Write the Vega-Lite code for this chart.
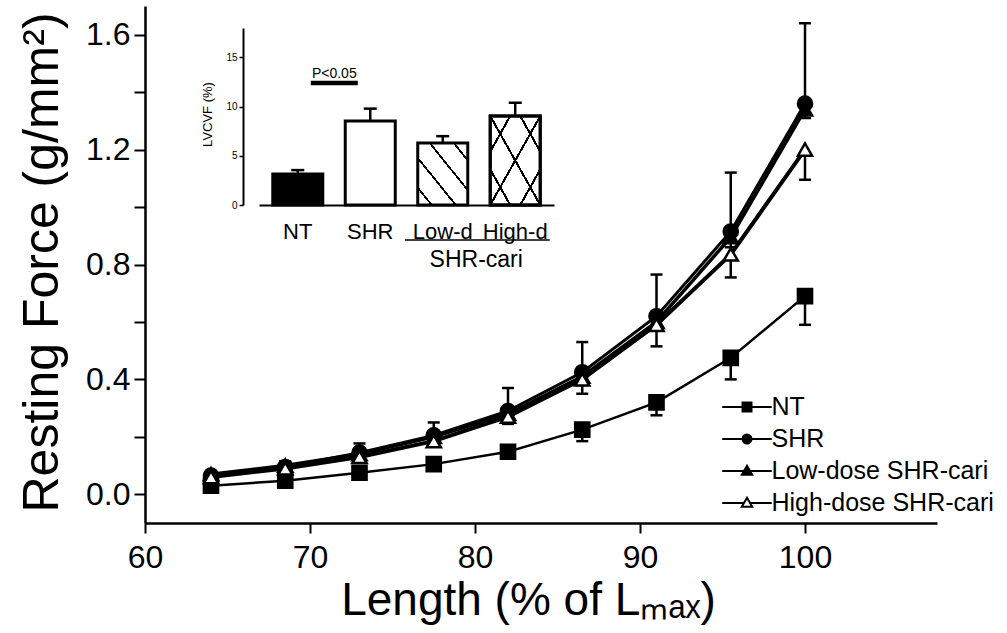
{
  "$schema": "https://vega.github.io/schema/vega-lite/v6.json",
  "width": 792,
  "height": 517,
  "autosize": {"type": "none"},
  "padding": {"left": 145, "top": 6, "right": 70, "bottom": 110},
  "background": "white",
  "config": {
    "view": {"stroke": null},
    "font": "Liberation Sans",
    "axis": {"grid": false, "domainColor": "black", "tickColor": "black", "labelColor": "black", "titleColor": "black", "titleFontWeight": "normal", "labelFlush": false, "labelOverlap": false},
    "legend": {"padding": 0}
  },
  "datasets": {
    "curves": [
      {"group": "NT", "length": 64, "force": 0.03, "bar_end": 0.02},
      {"group": "NT", "length": 68.5, "force": 0.047, "bar_end": 0.035},
      {"group": "NT", "length": 73, "force": 0.075, "bar_end": 0.06},
      {"group": "NT", "length": 77.5, "force": 0.105, "bar_end": 0.09},
      {"group": "NT", "length": 82, "force": 0.148, "bar_end": 0.13},
      {"group": "NT", "length": 86.5, "force": 0.225, "bar_end": 0.185},
      {"group": "NT", "length": 91, "force": 0.32, "bar_end": 0.275},
      {"group": "NT", "length": 95.5, "force": 0.475, "bar_end": 0.4},
      {"group": "NT", "length": 100, "force": 0.69, "bar_end": 0.59},
      {"group": "SHR", "length": 64, "force": 0.065, "bar_end": 0.08},
      {"group": "SHR", "length": 68.5, "force": 0.095, "bar_end": 0.115},
      {"group": "SHR", "length": 73, "force": 0.145, "bar_end": 0.177},
      {"group": "SHR", "length": 77.5, "force": 0.205, "bar_end": 0.25},
      {"group": "SHR", "length": 82, "force": 0.29, "bar_end": 0.37},
      {"group": "SHR", "length": 86.5, "force": 0.425, "bar_end": 0.53},
      {"group": "SHR", "length": 91, "force": 0.62, "bar_end": 0.765},
      {"group": "SHR", "length": 95.5, "force": 0.915, "bar_end": 1.12},
      {"group": "SHR", "length": 100, "force": 1.36, "bar_end": 1.64},
      {"group": "Low-dose SHR-cari", "length": 64, "force": 0.07, "bar_end": 0.06},
      {"group": "Low-dose SHR-cari", "length": 68.5, "force": 0.1, "bar_end": 0.088},
      {"group": "Low-dose SHR-cari", "length": 73, "force": 0.14, "bar_end": 0.125},
      {"group": "Low-dose SHR-cari", "length": 77.5, "force": 0.2, "bar_end": 0.18},
      {"group": "Low-dose SHR-cari", "length": 82, "force": 0.28, "bar_end": 0.255},
      {"group": "Low-dose SHR-cari", "length": 86.5, "force": 0.41, "bar_end": 0.38},
      {"group": "Low-dose SHR-cari", "length": 91, "force": 0.6, "bar_end": 0.57},
      {"group": "Low-dose SHR-cari", "length": 95.5, "force": 0.895, "bar_end": 0.86},
      {"group": "Low-dose SHR-cari", "length": 100, "force": 1.34, "bar_end": 1.31},
      {"group": "High-dose SHR-cari", "length": 64, "force": 0.06, "bar_end": 0.05},
      {"group": "High-dose SHR-cari", "length": 68.5, "force": 0.09, "bar_end": 0.08},
      {"group": "High-dose SHR-cari", "length": 73, "force": 0.13, "bar_end": 0.115},
      {"group": "High-dose SHR-cari", "length": 77.5, "force": 0.185, "bar_end": 0.17},
      {"group": "High-dose SHR-cari", "length": 82, "force": 0.27, "bar_end": 0.245},
      {"group": "High-dose SHR-cari", "length": 86.5, "force": 0.4, "bar_end": 0.35},
      {"group": "High-dose SHR-cari", "length": 91, "force": 0.59, "bar_end": 0.515},
      {"group": "High-dose SHR-cari", "length": 95.5, "force": 0.835, "bar_end": 0.755},
      {"group": "High-dose SHR-cari", "length": 100, "force": 1.2, "bar_end": 1.095}
    ],
    "lvcvf": [
      {"group": "NT", "value": 3.15, "err_top": 3.55},
      {"group": "SHR", "value": 8.55, "err_top": 9.8},
      {"group": "Low-d", "value": 6.3, "err_top": 7.0},
      {"group": "High-d", "value": 9.05, "err_top": 10.4}
    ]
  },
  "layer": [
    {
      "data": {"name": "curves"},
      "encoding": {
        "x": {
          "field": "length", "type": "quantitative",
          "scale": {"domain": [60, 108], "nice": false, "zero": false},
          "axis": {
            "orient": "bottom", "values": [60, 70, 80, 90, 100], "format": "d",
            "tickSize": 10, "tickWidth": 2, "domainWidth": 2.5,
            "labelFontSize": 32, "labelPadding": 9,
            "title": "Length (% of Lₘₐₓ)", "titleFontSize": 46,
            "titleX": 383, "titleY": 77, "titleAlign": "center", "titleBaseline": "middle"
          }
        },
        "y": {
          "field": "force", "type": "quantitative",
          "scale": {"domain": [-0.1, 1.7], "nice": false, "zero": false},
          "axis": {
            "orient": "left", "values": [0, 0.2, 0.4, 0.6, 0.8, 1, 1.2, 1.4, 1.6],
            "labelExpr": "round(datum.value*10) % 4 === 0 ? format(datum.value, '.1f') : ''",
            "tickSize": 11, "tickWidth": 2, "domainWidth": 2.5,
            "labelFontSize": 32, "labelPadding": 4,
            "title": "Resting Force (g/mm²)", "titleFontSize": 50,
            "titleX": -103, "titleY": 256, "titleAngle": -90, "titleAlign": "center", "titleBaseline": "middle"
          }
        }
      },
      "layer": [
        {
          "mark": {"type": "line", "color": "black"},
          "encoding": {
            "detail": {"field": "group"},
            "strokeWidth": {"field": "group", "type": "nominal", "scale": {"domain": ["NT", "SHR", "Low-dose SHR-cari", "High-dose SHR-cari"], "range": [2.5, 4, 3, 2.5]}, "legend": null}
          }
        },
        {
          "mark": {"type": "rule", "color": "black", "strokeWidth": 2.5},
          "encoding": {"y2": {"field": "bar_end"}}
        },
        {
          "mark": {"type": "tick", "color": "black", "orient": "horizontal", "size": 12, "thickness": 2.5, "opacity": 1},
          "encoding": {"y": {"field": "bar_end", "type": "quantitative", "title": "Resting Force (g/mm²)", "scale": {"domain": [-0.1, 1.7], "nice": false, "zero": false}}}
        },
        {
          "mark": {"type": "point", "strokeWidth": 2, "size": 1, "opacity": 1},
          "encoding": {
            "shape": {
              "field": "group", "type": "nominal",
              "scale": {"domain": ["NT", "SHR", "Low-dose SHR-cari", "High-dose SHR-cari"], "range": ["M-5.5,0H5.5M-1,-1H1V1H-1Z", "M-5.5,0H5.5M1,0A1,1,0,1,1,-1,0A1,1,0,1,1,1,0Z", "M-5.5,0H5.5M0,-1.15L1.15,0.85H-1.15Z", "M-5.5,0H-0.6M0.6,0H5.5M0,-1.15L1.15,0.85H-1.15Z"]},
              "legend": {"title": null, "orient": "none", "legendX": 589.5, "legendY": 388.5, "labelFontSize": 25, "labelFont": "Liberation Sans", "labelColor": "black", "symbolSize": 81, "symbolStrokeWidth": 2, "symbolOpacity": 1, "labelOffset": 12, "rowPadding": 6, "padding": 0, "labelLimit": 400}
            },
            "fill": {
              "field": "group", "type": "nominal",
              "scale": {"domain": ["NT", "SHR", "Low-dose SHR-cari", "High-dose SHR-cari"], "range": ["black", "black", "black", "white"]},
              "legend": {"title": null, "orient": "none", "legendX": 589.5, "legendY": 388.5, "labelFontSize": 25, "labelFont": "Liberation Sans", "labelColor": "black", "symbolSize": 81, "symbolStrokeWidth": 2, "symbolOpacity": 1, "labelOffset": 12, "rowPadding": 6, "padding": 0, "labelLimit": 400}
            },
            "stroke": {
              "field": "group", "type": "nominal",
              "scale": {"domain": ["NT", "SHR", "Low-dose SHR-cari", "High-dose SHR-cari"], "range": ["black", "black", "black", "black"]},
              "legend": {"title": null, "orient": "none", "legendX": 589.5, "legendY": 388.5, "labelFontSize": 25, "labelFont": "Liberation Sans", "labelColor": "black", "symbolSize": 81, "symbolStrokeWidth": 2, "symbolOpacity": 1, "labelOffset": 12, "rowPadding": 6, "padding": 0, "labelLimit": 400}
            }
          }
        },
        {
          "mark": {"type": "point", "stroke": "black", "strokeWidth": 2.5, "size": 200, "opacity": 1},
          "encoding": {
            "shape": {"field": "group", "type": "nominal", "scale": {"domain": ["NT", "SHR", "Low-dose SHR-cari", "High-dose SHR-cari"], "range": ["square", "circle", "triangle-up", "triangle-up"]}, "legend": null},
            "fill": {"field": "group", "type": "nominal", "scale": {"domain": ["NT", "SHR", "Low-dose SHR-cari", "High-dose SHR-cari"], "range": ["black", "black", "black", "white"]}, "legend": null}
          }
        }
      ],
      "resolve": {"scale": {"shape": "independent", "fill": "independent", "stroke": "independent"}}
    },
    {
      "data": {"name": "lvcvf"},
      "encoding": {
        "x": {
          "field": "group", "type": "nominal",
          "scale": {"domain": ["NT", "SHR", "Low-d", "High-d"], "range": [114, 409], "paddingInner": 0.31, "paddingOuter": 0.19},
          "axis": {"orient": "bottom", "offset": -318, "ticks": false, "tickSize": 0, "domainWidth": 2, "labelFontSize": 22, "labelPadding": 16, "labelAngle": 0, "title": null}
        },
        "y": {
          "field": "value", "type": "quantitative",
          "scale": {"domain": [0, 18], "range": [199, 22], "nice": false, "zero": false},
          "axis": {"orient": "left", "offset": -98, "values": [0, 5, 10, 15], "tickSize": 4, "tickWidth": 1.5, "domainWidth": 2, "labelFontSize": 10, "labelPadding": 2, "title": "LVCVF (%)", "titleFontSize": 13, "titleX": -36, "titleY": 108, "titleAngle": -90, "titleAlign": "center", "titleBaseline": "middle"}
        }
      },
      "layer": [
        {"transform": [{"filter": "datum.group === 'NT'"}], "mark": {"type": "bar", "fill": "black", "stroke": "black", "strokeWidth": 3}},
        {"transform": [{"filter": "datum.group === 'SHR'"}], "mark": {"type": "bar", "fill": "white", "stroke": "black", "strokeWidth": 3}},
        {"transform": [{"filter": "datum.group === 'Low-d'"}], "mark": {"type": "bar", "stroke": "black", "strokeWidth": 3,
          "fill": {"gradient": "linear", "x1": 0, "y1": 1, "x2": 1, "y2": 0, "stops": [
            {"offset": 0, "color": "white"},
            {"offset": 0.128, "color": "white"}, {"offset": 0.128, "color": "black"}, {"offset": 0.152, "color": "black"}, {"offset": 0.152, "color": "white"},
            {"offset": 0.368, "color": "white"}, {"offset": 0.368, "color": "black"}, {"offset": 0.392, "color": "black"}, {"offset": 0.392, "color": "white"},
            {"offset": 0.608, "color": "white"}, {"offset": 0.608, "color": "black"}, {"offset": 0.632, "color": "black"}, {"offset": 0.632, "color": "white"},
            {"offset": 0.848, "color": "white"}, {"offset": 0.848, "color": "black"}, {"offset": 0.872, "color": "black"}, {"offset": 0.872, "color": "white"},
            {"offset": 1, "color": "white"}]}}},
        {"transform": [{"filter": "datum.group === 'High-d'"}], "mark": {"type": "bar", "stroke": "black", "strokeWidth": 3,
          "fill": {"gradient": "linear", "x1": 0, "y1": 1, "x2": 1, "y2": 0, "stops": [
            {"offset": 0, "color": "white"},
            {"offset": 0.188, "color": "white"}, {"offset": 0.188, "color": "black"}, {"offset": 0.212, "color": "black"}, {"offset": 0.212, "color": "white"},
            {"offset": 0.488, "color": "white"}, {"offset": 0.488, "color": "black"}, {"offset": 0.512, "color": "black"}, {"offset": 0.512, "color": "white"},
            {"offset": 0.788, "color": "white"}, {"offset": 0.788, "color": "black"}, {"offset": 0.812, "color": "black"}, {"offset": 0.812, "color": "white"},
            {"offset": 1, "color": "white"}]}}},
        {"transform": [{"filter": "datum.group === 'High-d'"}], "mark": {"type": "bar", "stroke": "black", "strokeWidth": 3,
          "fill": {"gradient": "linear", "x1": 0, "y1": 0, "x2": 1, "y2": 1, "stops": [
            {"offset": 0, "color": "rgba(0,0,0,0)"},
            {"offset": 0.188, "color": "rgba(0,0,0,0)"}, {"offset": 0.188, "color": "black"}, {"offset": 0.212, "color": "black"}, {"offset": 0.212, "color": "rgba(0,0,0,0)"},
            {"offset": 0.488, "color": "rgba(0,0,0,0)"}, {"offset": 0.488, "color": "black"}, {"offset": 0.512, "color": "black"}, {"offset": 0.512, "color": "rgba(0,0,0,0)"},
            {"offset": 0.788, "color": "rgba(0,0,0,0)"}, {"offset": 0.788, "color": "black"}, {"offset": 0.812, "color": "black"}, {"offset": 0.812, "color": "rgba(0,0,0,0)"},
            {"offset": 1, "color": "rgba(0,0,0,0)"}]}}},
        {"mark": {"type": "rule", "color": "black", "strokeWidth": 2.5}, "encoding": {"y2": {"field": "err_top"}}},
        {"mark": {"type": "tick", "color": "black", "orient": "horizontal", "size": 13, "thickness": 2.5, "opacity": 1},
          "encoding": {"y": {"field": "err_top", "type": "quantitative", "title": "LVCVF (%)", "scale": {"domain": [0, 18], "range": [199, 22], "nice": false, "zero": false}}}},
        {
          "data": {"values": [{"from": "NT", "to": "SHR", "level": 12.4, "text_level": 12.9, "label": "P<0.05"}]},
          "layer": [
            {"mark": {"type": "rule", "color": "black", "strokeWidth": 4.5},
              "encoding": {"x": {"field": "from", "type": "nominal", "bandPosition": 0.76}, "x2": {"field": "to", "bandPosition": 0.25}, "y": {"field": "level", "type": "quantitative", "title": "LVCVF (%)"}}},
            {"mark": {"type": "text", "fontSize": 14, "baseline": "alphabetic", "align": "center", "color": "black"},
              "encoding": {"x": {"field": "from", "type": "nominal", "bandPosition": 1.23}, "y": {"field": "text_level", "type": "quantitative", "title": "LVCVF (%)"}, "text": {"field": "label"}}}
          ]
        },
        {
          "data": {"values": [{"from": "Low-d", "to": "High-d", "level": -3.56, "text_level": -6.3, "label": "SHR-cari"}]},
          "layer": [
            {"mark": {"type": "rule", "color": "black", "strokeWidth": 1.5},
              "encoding": {"x": {"field": "from", "type": "nominal", "bandPosition": -0.256}, "x2": {"field": "to", "bandPosition": 1.19}, "y": {"field": "level", "type": "quantitative", "title": "LVCVF (%)"}}},
            {"mark": {"type": "text", "fontSize": 23, "baseline": "alphabetic", "align": "center", "color": "black"},
              "encoding": {"x": {"field": "from", "type": "nominal", "bandPosition": 1.17}, "y": {"field": "text_level", "type": "quantitative", "title": "LVCVF (%)"}, "text": {"field": "label"}}}
          ]
        }
      ]
    }
  ],
  "resolve": {"scale": {"x": "independent", "y": "independent"}, "axis": {"x": "independent", "y": "independent"}}
}
